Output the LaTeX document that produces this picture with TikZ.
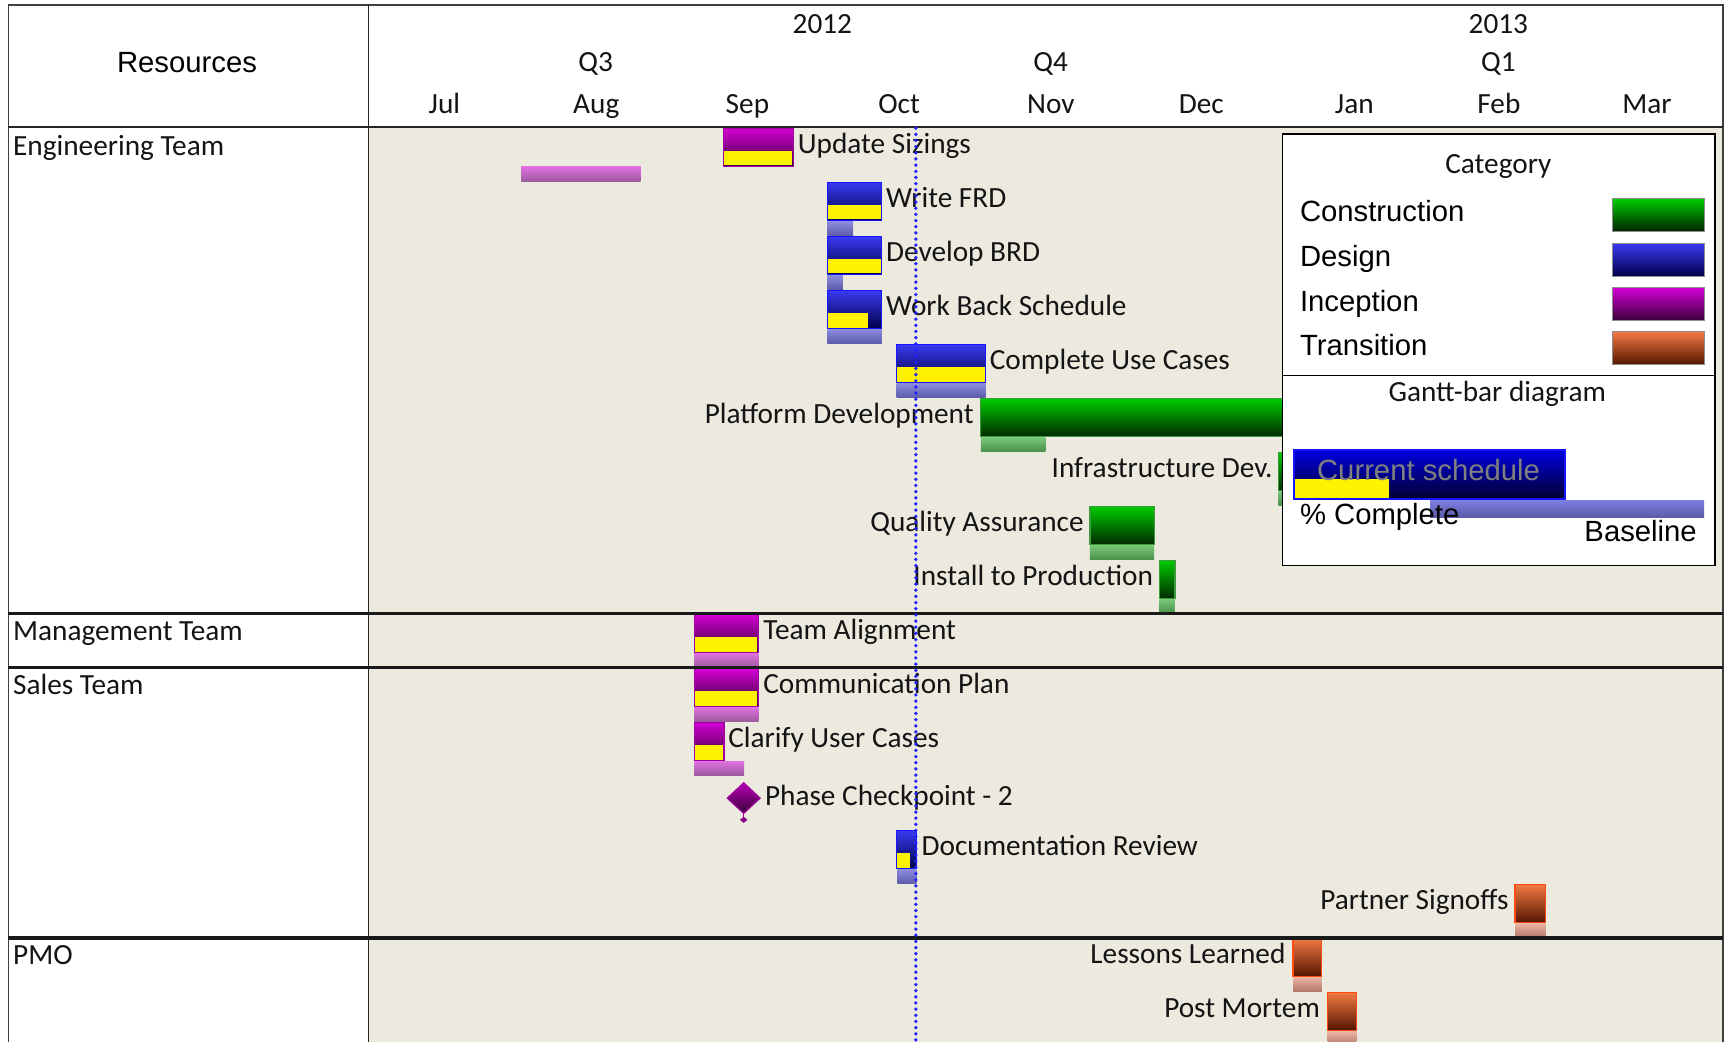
\documentclass[tikz,border=0pt]{standalone}
\usepackage{fontspec}
\setmainfont{Carlito}
\newfontfamily\carl{Carlito}
\newfontfamily\arl{Liberation Sans}
\definecolor{bg}{HTML}{ECE9DF}
\definecolor{txt}{HTML}{141414}
\definecolor{incT}{HTML}{D400D4}
\definecolor{incB}{HTML}{380038}
\definecolor{incD}{HTML}{A000A0}
\definecolor{desT}{HTML}{3A3AF2}
\definecolor{desB}{HTML}{00004A}
\definecolor{desD}{HTML}{1414FF}
\definecolor{conT}{HTML}{00CC00}
\definecolor{conB}{HTML}{002A00}
\definecolor{conD}{HTML}{3C9C3C}
\definecolor{traT}{HTML}{F27A44}
\definecolor{traB}{HTML}{551500}
\definecolor{traD}{HTML}{FF4A10}
\definecolor{incbT}{HTML}{E070E0}
\definecolor{incbB}{HTML}{9A5A9A}
\definecolor{desbT}{HTML}{8C8CE0}
\definecolor{desbB}{HTML}{5A5AA6}
\definecolor{conbT}{HTML}{78C878}
\definecolor{conbB}{HTML}{4A8E4A}
\definecolor{trabT}{HTML}{ECB4A2}
\definecolor{trabB}{HTML}{B07464}
\definecolor{todayc}{HTML}{2020FF}
\definecolor{swb}{HTML}{8C8C8C}
\newcommand\gbar[4]{\path[#1bar] (#2,#4) rectangle (#3,#4+34.5);}
\newcommand\gyel[3]{\path[fill=yellow] (#1+0.8,#3+20.3) rectangle (#2,#3+33.8);}
\newcommand\gbase[4]{\path[#1bl] (#2,#4+35.5) rectangle (#3,#4+48.7);}
\begin{document}
\begin{tikzpicture}[x=0.5pt,y=-0.5pt,
  lbl/.style={font=\carl\fontsize{13.3}{16}\selectfont, text=txt, inner sep=0pt, outer sep=0pt},
  albl/.style={font=\arl\fontsize{13.3}{16}\selectfont, text=black, inner sep=0pt, outer sep=0pt},
  incbar/.style={top color=incT, bottom color=incB, draw=incD, line width=0.6pt},
  desbar/.style={top color=desT, bottom color=desB, draw=desD, line width=0.6pt},
  conbar/.style={top color=conT, bottom color=conB, draw=conD, line width=0.6pt},
  trabar/.style={top color=traT, bottom color=traB, draw=traD, line width=0.6pt},
  incbl/.style={top color=incbT, bottom color=incbB},
  desbl/.style={top color=desbT, bottom color=desbB},
  conbl/.style={top color=conbT, bottom color=conbB},
  trabl/.style={top color=trabT, bottom color=trabB},
  swatch/.style={draw=swb, line width=0.6pt},
  rowline/.style={line width=1.5pt, black!90},
  today/.style={todayc, line width=1.7pt, line cap=round, dash pattern=on 0pt off 2.8pt}
]
\useasboundingbox (0,0) rectangle (1568,947);
\fill[white] (0,0) rectangle (1568,947);
\fill[bg] (335,115.5) rectangle (1566,947);

% header
\node[albl, anchor=base] (hres) at (170,66) {Resources};
\node[lbl, anchor=base] (y12) at (747.5,30) {2012};
\node[lbl, anchor=base] (y13) at (1362,30) {2013};
\node[lbl, anchor=base] (q3) at (541.5,65) {Q3};
\node[lbl, anchor=base] (q4) at (955,65) {Q4};
\node[lbl, anchor=base] (q1) at (1362,65) {Q1};
\foreach \mn/\mx [count=\i] in {Jul/404,Aug/542,Sep/679.4,Oct/817.3,Nov/955.2,Dec/1092,Jan/1231,Feb/1362.5,Mar/1497}
  \node[lbl, anchor=base] (m\i) at (\mx,103) {\mn};

% row labels
\node[lbl, anchor=base west] (r1) at (12,141) {Engineering Team};
\node[lbl, anchor=base west] (r2) at (12,582) {Management Team};
\node[lbl, anchor=base west] (r3) at (12,631) {Sales Team};
\node[lbl, anchor=base west] (r4) at (12,876.5) {PMO};

% tasks
% 0 Update Sizings
\gbar{inc}{657.4}{721.1}{116.6}\gyel{657.4}{720.3}{116.6}
\path[incbl] (473.6,151.8) rectangle (582.3,165.2);
\node[lbl, anchor=base west] (t0) at (725.3,139.3) {Update Sizings};
% 1 Write FRD
\gbar{des}{752}{801.5}{165.7}\gyel{752}{800.7}{165.7}\gbase{des}{752}{775.5}{165.7}
\node[lbl, anchor=base west] (t1) at (805.5,188.2) {Write FRD};
% 2 Develop BRD
\gbar{des}{752}{801.5}{214.8}\gyel{752}{800.7}{214.8}\gbase{des}{752}{766.2}{214.8}
\node[lbl, anchor=base west] (t2) at (805.5,237.3) {Develop BRD};
% 3 Work Back Schedule
\gbar{des}{752}{801.5}{263.9}\gyel{752}{789.3}{263.9}\gbase{des}{752}{801.5}{263.9}
\node[lbl, anchor=base west] (t3) at (805.5,286.4) {Work Back Schedule};
% 4 Complete Use Cases
\gbar{des}{815}{896}{313.0}\gyel{815}{895.2}{313.0}\gbase{des}{815}{896}{313.0}
\node[lbl, anchor=base west] (t4) at (899.7,335.5) {Complete Use Cases};
% 5 Platform Development
\gbar{con}{891.5}{1400}{362.1}\gbase{con}{891.5}{950.3}{362.1}
\node[lbl, anchor=base east] (t5) at (885,384.6) {Platform Development};
% 6 Infrastructure Dev.
\gbar{con}{1162}{1300}{411.1}\gbase{con}{1162}{1200}{411.1}
\node[lbl, anchor=base east] (t6) at (1156.6,433.6) {Infrastructure Dev.};
% 7 Quality Assurance
\gbar{con}{990.7}{1049.1}{460.2}\gbase{con}{990.7}{1049.1}{460.2}
\node[lbl, anchor=base east] (t7) at (985,482.7) {Quality Assurance};
% 8 Install to Production
\gbar{con}{1054}{1068}{509.3}\gbase{con}{1054}{1068}{509.3}
\node[lbl, anchor=base east] (t8) at (1048,531.8) {Install to Production};
% 9 Team Alignment
\gbar{inc}{631}{689.3}{558.4}\gyel{631}{688.5}{558.4}\gbase{inc}{631}{689.3}{558.4}
\node[lbl, anchor=base west] (t9) at (693.9,580.9) {Team Alignment};
% 10 Communication Plan
\gbar{inc}{631}{689.3}{607.5}\gyel{631}{688.5}{607.5}\gbase{inc}{631}{689.3}{607.5}
\node[lbl, anchor=base west] (t10) at (693.9,630) {Communication Plan};
% 11 Clarify User Cases
\gbar{inc}{631}{658.2}{656.6}\gyel{631}{657.4}{656.6}\gbase{inc}{631}{676.4}{656.6}
\node[lbl, anchor=base west] (t11) at (662,679.1) {Clarify User Cases};
% 12 Phase Checkpoint - 2
\draw[incD, line width=0.6pt] (676,739) -- (676,742.5);
\path[top color=incT!85!black, bottom color=incB, draw=incD, line width=0.5pt]
  (676,711.5) -- (691,725.5) -- (676,739.4) -- (661,725.5) -- cycle;
\path[fill=incD!85!black] (676,742.4) -- (679.4,745.2) -- (676,748) -- (672.6,745.2) -- cycle;
\node[lbl, anchor=base west] (t12) at (695.4,731.8) {Phase Checkpoint - 2};
% 13 Documentation Review
\gbar{des}{815}{833}{754.8}\gyel{815}{827.3}{754.8}\gbase{des}{815.7}{833}{754.8}
\node[lbl, anchor=base west] (t13) at (837.8,777.3) {Documentation Review};
% 14 Partner Signoffs
\gbar{tra}{1377.2}{1405}{803.9}\gbase{tra}{1377.2}{1405}{803.9}
\node[lbl, anchor=base east] (t14) at (1371.2,826.4) {Partner Signoffs};
% 15 Lessons Learned
\gbar{tra}{1175.4}{1201.5}{852.9}\gbase{tra}{1175.4}{1201.5}{852.9}
\node[lbl, anchor=base east] (t15) at (1168.4,875.4) {Lessons Learned};
% 16 Post Mortem
\gbar{tra}{1206.7}{1232.8}{902.0}\gbase{tra}{1206.7}{1232.8}{902.0}
\node[lbl, anchor=base east] (t16) at (1199.7,924.5) {Post Mortem};

% grid lines
\draw[line width=0.75pt, black!75] (7.6,947) -- (7.6,4.5) -- (1566,4.5) -- (1566,947);
\draw[line width=0.7pt, black!85] (335,4.5) -- (335,947);
\draw[line width=0.6pt, black!85] (7.6,115.5) -- (1566,115.5);
\draw[rowline] (7.6,557.5) -- (1566,557.5);
\draw[rowline] (7.6,607) -- (1566,607);
\draw[rowline] (7.6,852.5) -- (1566,852.5);

% today line
\draw[today] (832.5,116.5) -- (832.5,947);

% legend
\path[fill=white, draw=black, line width=0.6pt] (1165.7,121.8) rectangle (1559,514.2);
\draw[line width=0.6pt] (1165.7,341.5) -- (1559,341.5);
\node[lbl, anchor=base] (lgcat) at (1362,157.5) {Category};
\node[albl, anchor=base west] (lg1) at (1181.7,201) {Construction};
\node[albl, anchor=base west] (lg2) at (1181.7,242.4) {Design};
\node[albl, anchor=base west] (lg3) at (1181.7,283.3) {Inception};
\node[albl, anchor=base west] (lg4) at (1181.7,322.7) {Transition};
\path[swatch, top color=conT, bottom color=conB!80!black] (1465.6,180.3) rectangle (1549.2,210.3);
\path[swatch, top color=desT, bottom color=desB] (1465.6,221.2) rectangle (1549.2,251.2);
\path[swatch, top color=incT, bottom color=incB] (1465.6,261.2) rectangle (1549.2,291.6);
\path[swatch, top color=traT, bottom color=traB] (1465.6,301.5) rectangle (1549.2,331.6);
\node[lbl, anchor=base] (lggb) at (1361,365) {Gantt-bar diagram};
\path[top color=blue!88!black, bottom color=blue!18!black, draw=desD, line width=0.6pt] (1176.3,409) rectangle (1422.6,453.6);
\path[fill=yellow] (1177.3,435.7) rectangle (1262.7,452.4);
\node[albl, anchor=base, text=black!50] (lgcs) at (1298.5,437) {Current schedule};
\path[top color=desbT!90!blue, bottom color=desbB] (1300,454.5) rectangle (1549,470.6);
\node[albl, anchor=base west] (lgpc) at (1181.7,477) {\% Complete};
\node[albl, anchor=base east] (lgbl) at (1542.3,492.4) {Baseline};
\end{tikzpicture}
\end{document}
